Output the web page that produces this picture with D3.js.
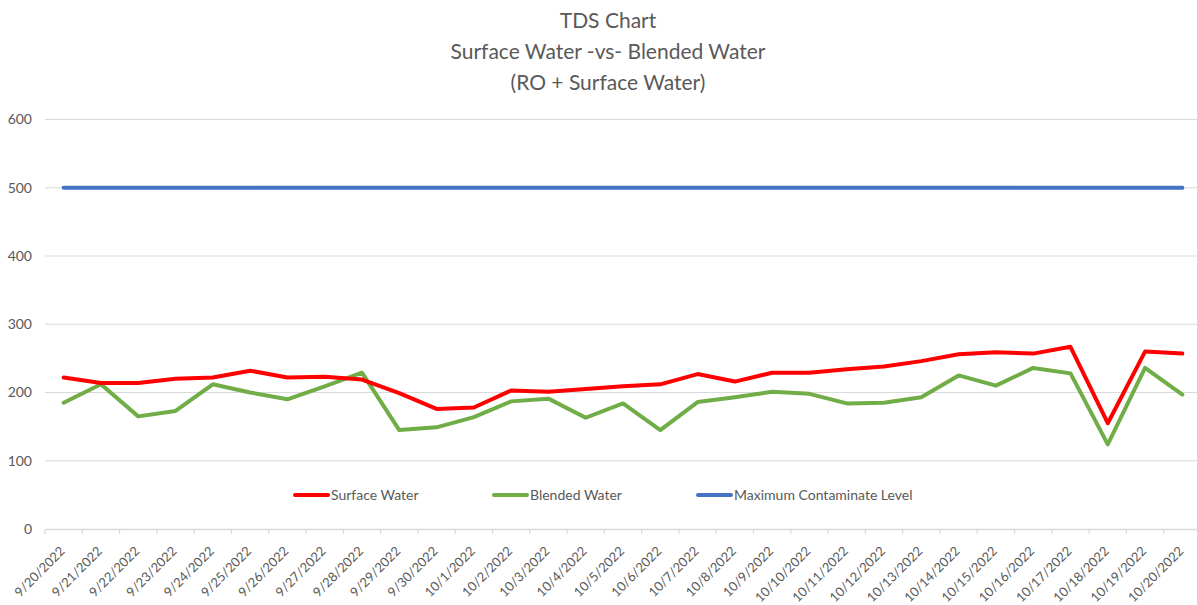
<!DOCTYPE html>
<html>
<head>
<meta charset="utf-8">
<script src="https://cdn.jsdelivr.net/npm/d3@7"></script>
<style>
  body { margin: 0; background: #fff; }
  text { font-family: Lato, "Open Sans", sans-serif; fill: #595959; }
</style>
</head>
<body>
<script>
const dates = ['9/20/2022', '9/21/2022', '9/22/2022', '9/23/2022', '9/24/2022', '9/25/2022',
  '9/26/2022', '9/27/2022', '9/28/2022', '9/29/2022', '9/30/2022', '10/1/2022', '10/2/2022',
  '10/3/2022', '10/4/2022', '10/5/2022', '10/6/2022', '10/7/2022', '10/8/2022', '10/9/2022',
  '10/10/2022', '10/11/2022', '10/12/2022', '10/13/2022', '10/14/2022', '10/15/2022',
  '10/16/2022', '10/17/2022', '10/18/2022', '10/19/2022', '10/20/2022'];

const surfaceWater = [222, 214, 214, 220, 222, 232, 222, 223, 219, 199, 176, 178, 203, 201, 205,
  209, 212, 227, 216, 229, 229, 234, 238, 246, 256, 259, 257, 267, 155, 260, 257];

const blendedWater = [185, 212, 165, 173, 212, 200, 190, 209, 229, 145, 149, 164, 187, 191, 163,
  184, 145, 186, 193, 201, 198, 184, 185, 193, 225, 210, 236, 228, 124, 236, 197];

const maxLevel = dates.map(() => 500);

const yTicks = [0, 100, 200, 300, 400, 500, 600];

const titleLines = ['TDS Chart', 'Surface Water -vs- Blended Water', '(RO + Surface Water)'];

const series = [
  { name: 'Surface Water', values: surfaceWater, color: '#ff0000' },
  { name: 'Blended Water', values: blendedWater, color: '#70ad47' },
  { name: 'Maximum Contaminate Level', values: maxLevel, color: '#4472c4' }
];

let width = 1197;
let height = 605;

let svg = d3.select('body')
  .append('svg')
  .attr('width', width)
  .attr('height', height);

let x = d3.scaleBand()
  .domain(dates)
  .range([45, 1201]);

let y = d3.scaleLinear()
  .domain([0, 600])
  .range([529, 119.5]);

// title
svg.append('g')
  .selectAll('text')
  .data(titleLines)
  .enter()
    .append('text')
    .attr('x', 608)
    .attr('y', (d, i) => 28 + i * 31)
    .attr('text-anchor', 'middle')
    .style('font-size', '21px')
    .text(d => d);

// gridlines
svg.append('g')
  .selectAll('line')
  .data(yTicks.filter(d => d > 0))
  .enter()
    .append('line')
    .attr('x1', 45)
    .attr('x2', width)
    .attr('y1', d => y(d))
    .attr('y2', d => y(d))
    .attr('stroke', '#d9d9d9')
    .attr('stroke-width', 1.2);

// y axis labels
let yAxis = d3.axisLeft(y)
  .tickValues(yTicks)
  .tickSize(0)
  .tickPadding(13);

let yg = svg.append('g')
  .attr('transform', 'translate(45, 0)')
  .call(yAxis);
yg.select('.domain').remove();
yg.selectAll('text').style('font-size', '14px');

// x axis
let xAxis = d3.axisBottom(x).tickSize(0);
let xg = svg.append('g')
  .attr('transform', `translate(0, ${y(0)})`)
  .call(xAxis);
xg.select('.domain').attr('stroke', '#d9d9d9').attr('stroke-width', 1.5);
xg.selectAll('text')
  .style('font-size', '13px')
  .attr('text-anchor', 'end')
  .attr('y', 0)
  .attr('dy', 0)
  .attr('transform', 'translate(2, 23) rotate(-45)');

// tick marks between categories
xg.append('g')
  .selectAll('line')
  .data(dates)
  .enter()
    .append('line')
    .attr('x1', d => x(d))
    .attr('x2', d => x(d))
    .attr('y1', 0)
    .attr('y2', 5)
    .attr('stroke', '#d9d9d9')
    .attr('stroke-width', 1.2);

// lines
let line = d3.line()
  .x((d, i) => x(dates[i]) + x.bandwidth() / 2)
  .y(d => y(d));

svg.append('g')
  .selectAll('path')
  .data(series.slice().reverse())
  .enter()
    .append('path')
    .attr('d', d => line(d.values))
    .attr('fill', 'none')
    .attr('stroke', d => d.color)
    .attr('stroke-width', 4)
    .attr('stroke-linejoin', 'round')
    .attr('stroke-linecap', 'round');

// legend
let legendX = [295, 494, 698];
let legend = svg.append('g')
  .selectAll('g')
  .data(series)
  .enter()
    .append('g')
    .attr('transform', (d, i) => `translate(${legendX[i]}, 495)`);

legend.append('line')
  .attr('x1', 0)
  .attr('x2', 33)
  .attr('stroke', d => d.color)
  .attr('stroke-width', 4)
  .attr('stroke-linecap', 'round');

legend.append('text')
  .attr('x', 36)
  .attr('y', 5)
  .style('font-size', '14px')
  .text(d => d.name);
</script>
</body>
</html>
